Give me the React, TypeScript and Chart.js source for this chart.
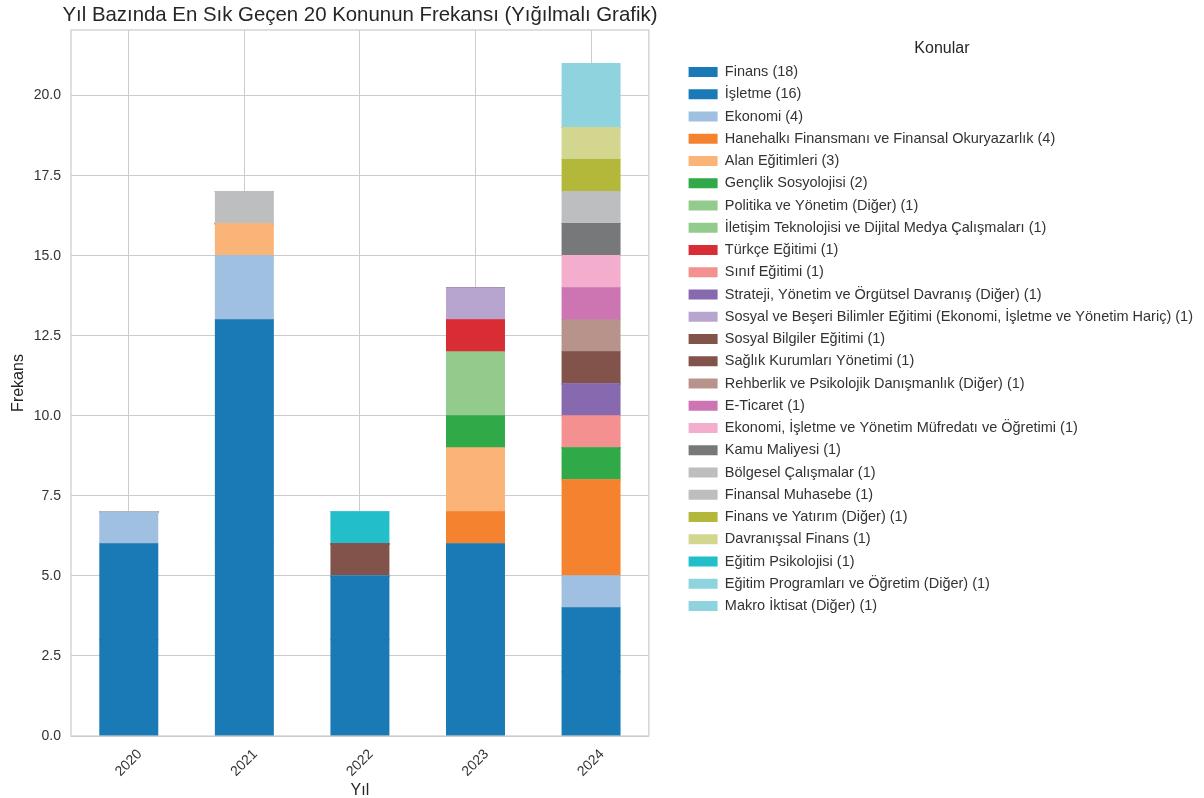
import React, { useEffect, useRef } from "react";
import { Chart, registerables } from "chart.js";

Chart.register(...registerables);

const years = ["2020", "2021", "2022", "2023", "2024"];

const topicNames = [
  "Finans (18)",
  "İşletme (16)",
  "Ekonomi (4)",
  "Hanehalkı Finansmanı ve Finansal Okuryazarlık (4)",
  "Alan Eğitimleri (3)",
  "Gençlik Sosyolojisi (2)",
  "Politika ve Yönetim (Diğer) (1)",
  "İletişim Teknolojisi ve Dijital Medya Çalışmaları (1)",
  "Türkçe Eğitimi (1)",
  "Sınıf Eğitimi (1)",
  "Strateji, Yönetim ve Örgütsel Davranış (Diğer) (1)",
  "Sosyal ve Beşeri Bilimler Eğitimi (Ekonomi, İşletme ve Yönetim Hariç) (1)",
  "Sosyal Bilgiler Eğitimi (1)",
  "Sağlık Kurumları Yönetimi (1)",
  "Rehberlik ve Psikolojik Danışmanlık (Diğer) (1)",
  "E-Ticaret (1)",
  "Ekonomi, İşletme ve Yönetim Müfredatı ve Öğretimi (1)",
  "Kamu Maliyesi (1)",
  "Bölgesel Çalışmalar (1)",
  "Finansal Muhasebe (1)",
  "Finans ve Yatırım (Diğer) (1)",
  "Davranışsal Finans (1)",
  "Eğitim Psikolojisi (1)",
  "Eğitim Programları ve Öğretim (Diğer) (1)",
  "Makro İktisat (Diğer) (1)",
];

// values per year (2020..2024) for each topic, same order as topicNames
const finans = [3, 6, 3, 4, 2];
const isletme = [3, 7, 2, 2, 2];
const ekonomi = [1, 2, 0, 0, 1];
const hanehalki = [0, 0, 0, 1, 3];
const alanEgitimleri = [0, 1, 0, 2, 0];
const genclik = [0, 0, 0, 1, 1];
const politika = [0, 0, 0, 1, 0];
const iletisim = [0, 0, 0, 1, 0];
const turkce = [0, 0, 0, 1, 0];
const sinif = [0, 0, 0, 0, 1];
const strateji = [0, 0, 0, 0, 1];
const sosyalBeseri = [0, 0, 0, 1, 0];
const sosyalBilgiler = [0, 0, 1, 0, 0];
const saglik = [0, 0, 0, 0, 1];
const rehberlik = [0, 0, 0, 0, 1];
const eTicaret = [0, 0, 0, 0, 1];
const ekoMufredat = [0, 0, 0, 0, 1];
const kamuMaliyesi = [0, 0, 0, 0, 1];
const bolgesel = [0, 1, 0, 0, 0];
const finansalMuhasebe = [0, 0, 0, 0, 1];
const finansYatirim = [0, 0, 0, 0, 1];
const davranissal = [0, 0, 0, 0, 1];
const egitimPsikolojisi = [0, 0, 1, 0, 0];
const egitimProgramlari = [0, 0, 0, 0, 1];
const makroIktisat = [0, 0, 0, 0, 1];

const seriesValues = [
  finans, isletme, ekonomi, hanehalki, alanEgitimleri, genclik, politika,
  iletisim, turkce, sinif, strateji, sosyalBeseri, sosyalBilgiler, saglik,
  rehberlik, eTicaret, ekoMufredat, kamuMaliyesi, bolgesel, finansalMuhasebe,
  finansYatirim, davranissal, egitimPsikolojisi, egitimProgramlari, makroIktisat,
];

const seriesColors = [
  "#1a7ab5", "#1a7ab5", "#a0c0e2", "#f5822f", "#fbb478", "#30aa48", "#93cb8c",
  "#93cb8c", "#d92d35", "#f49090", "#8769b0", "#b8a5cf", "#82534b", "#82534b",
  "#b8938b", "#cc75b2", "#f4aecd", "#76787a", "#bdbec0", "#bdbec0", "#b4b83a",
  "#d3d68e", "#22bfcb", "#8fd3df", "#8fd3df",
];

const yTicks = [0, 2.5, 5, 7.5, 10, 12.5, 15, 17.5, 20];
const yMax = 22.05;

const FONT = "'Liberation Sans', Arial, sans-serif";
const TEXT = "#262626";
const TICK = "#333333";
const GRID = "#cccccc";

const frame = {
  id: "frame",
  afterLayout(chart: any) {
    // let the title overhang the plot area slightly, as in the reference
    const t = chart.titleBlock;
    if (t) {
      t.left -= 12;
      t.right += 12;
      t.width += 24;
    }
  },
  afterDatasetsDraw(chart: any) {
    const { ctx, chartArea } = chart;
    ctx.save();
    ctx.strokeStyle = GRID;
    ctx.lineWidth = 1.25;
    ctx.strokeRect(chartArea.left, chartArea.top, chartArea.right - chartArea.left, chartArea.bottom - chartArea.top);
    ctx.restore();
  },
};

export default function App() {
  const ref = useRef<HTMLCanvasElement | null>(null);
  useEffect(() => {
    if (!ref.current) return;
    const chart = new Chart(ref.current, {
      type: "bar",
      data: {
        labels: years,
        datasets: topicNames.map((name, i) => ({
          label: name,
          data: seriesValues[i],
          backgroundColor: seriesColors[i],
          borderWidth: 0,
          inflateAmount: 0.6,
          barPercentage: 0.5,
          categoryPercentage: 1.0,
        })),
      },
      options: {
        animation: false,
        responsive: false,
        devicePixelRatio: 1,
        layout: { padding: { left: 4, right: 1, top: 0, bottom: 0 } },
        plugins: {
          tooltip: { enabled: false },
          title: {
            display: true,
            fullSize: false,
            text: "Yıl Bazında En Sık Geçen 20 Konunun Frekansı (Yığılmalı Grafik)",
            color: TEXT,
            font: { family: FONT, size: 20.4, weight: "normal", lineHeight: 1.2 },
            padding: { top: 3.3, bottom: 2.2 },
          },
          legend: {
            position: "right",
            align: "start",
            maxWidth: 560,
            title: {
              display: true,
              text: "Konular",
              color: TEXT,
              font: { family: FONT, size: 16, lineHeight: 1 },
              padding: { top: 41, bottom: 0 },
            },
            labels: {
              color: TICK,
              font: { family: FONT, size: 14.5 },
              boxWidth: 29,
              boxHeight: 10,
              padding: 7.75,
            },
          },
        },
        scales: {
          x: {
            stacked: true,
            offset: true,
            grid: { display: true, offset: false, color: GRID, lineWidth: 1, drawTicks: false },
            border: { display: false },
            afterFit: (scale: any) => {
              scale.height = 62;
            },
            ticks: {
              color: TICK,
              font: { family: FONT, size: 14 },
              minRotation: 45,
              maxRotation: 45,
              autoSkip: false,
              padding: 10,
              labelOffset: 11,
            },
            title: {
              display: true,
              text: "Yıl",
              color: TEXT,
              font: { family: FONT, size: 16, lineHeight: 1 },
              padding: { top: 3, bottom: -1 },
            },
          },
          y: {
            stacked: true,
            min: 0,
            max: yMax,
            afterBuildTicks: (scale: any) => {
              scale.ticks = yTicks.map((v) => ({ value: v }));
            },
            afterFit: (scale: any) => {
              scale.width = 67;
            },
            grid: { color: GRID, lineWidth: 1, drawTicks: false },
            border: { display: false },
            ticks: {
              color: TICK,
              font: { family: FONT, size: 14 },
              padding: 10,
              callback: (v: any) => Number(v).toFixed(1),
            },
            title: {
              display: true,
              text: "Frekans",
              color: TEXT,
              font: { family: FONT, size: 16, lineHeight: 1 },
              padding: { top: 7, bottom: 7 },
            },
          },
          yGap: {
            type: "linear",
            position: "right",
            display: true,
            grid: { display: false, drawTicks: false },
            border: { display: false },
            ticks: { display: false },
            afterFit: (scale: any) => {
              scale.width = 32;
            },
          },
        },
      },
      plugins: [frame],
    } as any);
    return () => chart.destroy();
  }, []);
  return (
    <div style={{ position: "absolute", left: 0, top: 0, width: 1204, height: 798, background: "#ffffff" }}>
      <canvas ref={ref} width={1204} height={798} style={{ display: "block" }} />
    </div>
  );
}
